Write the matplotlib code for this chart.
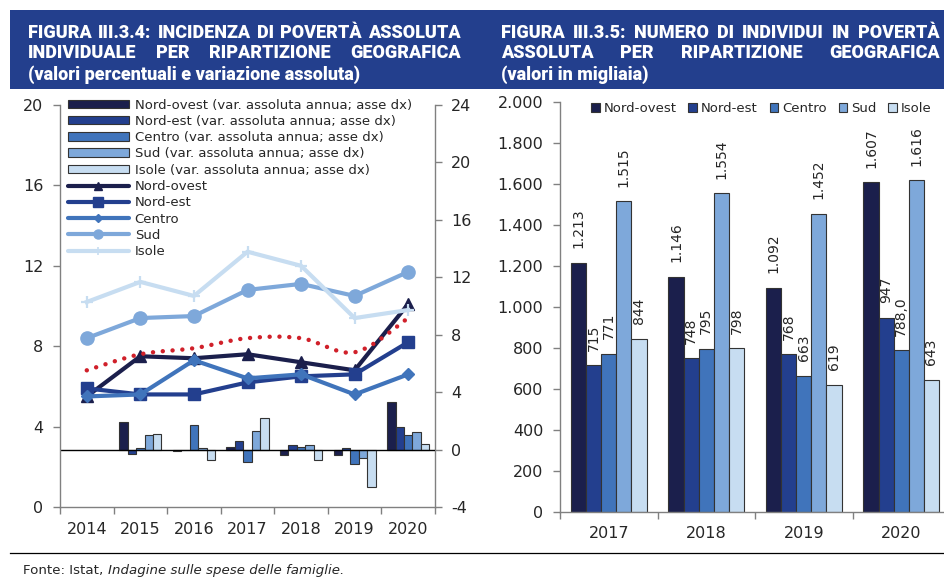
import numpy as np
import matplotlib
matplotlib.use('Agg')
import matplotlib.pyplot as plt
from matplotlib import font_manager
from matplotlib.patches import Rectangle, Patch, PathPatch
from matplotlib.lines import Line2D
from matplotlib.path import Path
from matplotlib.ticker import FuncFormatter, FixedLocator

# ---------------- data: left chart (incidenza, %) ----------------
years_left = ['2014', '2015', '2016', '2017', '2018', '2019', '2020']
inc_nord_ovest = [5.5, 7.5, 7.4, 7.6, 7.2, 6.8, 10.1]
inc_nord_est = [5.9, 5.6, 5.6, 6.2, 6.5, 6.6, 8.2]
inc_centro = [5.5, 5.6, 7.3, 6.4, 6.6, 5.6, 6.6]
inc_sud = [8.4, 9.4, 9.5, 10.8, 11.1, 10.5, 11.7]
inc_isole = [10.2, 11.2, 10.5, 12.7, 12.0, 9.4, 9.8]
inc_italia = [6.8, 7.6, 7.9, 8.4, 8.4, 7.7, 9.4]

# variazione assoluta annua (asse dx)
var_nord_ovest = [np.nan, 1.9, -0.1, 0.2, -0.4, -0.4, 3.3]
var_nord_est = [np.nan, -0.3, 0.0, 0.6, 0.3, 0.1, 1.6]
var_centro = [np.nan, 0.1, 1.7, -0.9, 0.2, -1.0, 1.0]
var_sud = [np.nan, 1.0, 0.1, 1.3, 0.3, -0.6, 1.2]
var_isole = [np.nan, 1.1, -0.7, 2.2, -0.7, -2.6, 0.4]

# ---------------- data: right chart (migliaia) ----------------
years_right = ['2017', '2018', '2019', '2020']
ind_nord_ovest = [1213, 1146, 1092, 1607]
ind_nord_est = [715, 748, 768, 947]
ind_centro = [771, 795, 663, 788.0]
ind_sud = [1515, 1554, 1452, 1616]
ind_isole = [844, 798, 619, 643]
ind_centro_decimals = [0, 0, 0, 1]

regions = ['Nord-ovest', 'Nord-est', 'Centro', 'Sud', 'Isole']

# ---------------- style ----------------
c_no = '#1b1f4c'
c_ne = '#233f8e'
c_ce = '#4074bb'
c_su = '#7ea8da'
c_is = '#c7ddf1'
colors = [c_no, c_ne, c_ce, c_su, c_is]
c_red = '#d0202a'
c_box = '#233f8d'
c_spine = '#808080'
c_text = '#262626'

W, H = 944, 579
plt.rcParams['font.family'] = ['DejaVu Sans']
plt.rcParams['axes.unicode_minus'] = False
fig = plt.figure(figsize=(W / 100, H / 100), dpi=100)

avail = {f.name for f in font_manager.fontManager.ttflist}


def pick(cands):
    for c in cands:
        if c in avail:
            return c
    return 'DejaVu Sans'


title_family = pick(['Roboto', 'Liberation Sans', 'DejaVu Sans'])


def fx(px):
    return px / W


def fy(py):
    return 1 - py / H


# title box
fig.add_artist(Rectangle((fx(10), fy(89)), fx(944) - fx(10), fy(10) - fy(89),
                         transform=fig.transFigure, facecolor=c_box,
                         edgecolor='none', zorder=0))

# ================= LEFT CHART =================
ax = fig.add_axes([fx(60), fy(507), fx(435) - fx(60), fy(105) - fy(507)])
axb = ax.twinx()
ax.set_zorder(axb.get_zorder() + 1)
ax.patch.set_visible(False)

x = np.arange(len(years_left))
bw = 0.157
var_series = [var_nord_ovest, var_nord_est, var_centro, var_sud, var_isole]
for i, (vals, col) in enumerate(zip(var_series, colors)):
    axb.bar(x + (i - 2) * bw, vals, bw, color=col, edgecolor='#333333',
            linewidth=0.8, zorder=2)
axb.axhline(0, color='black', lw=1.0, zorder=3)

inc_series = [inc_nord_ovest, inc_nord_est, inc_centro, inc_sud, inc_isole]
markers = [('^', 8, 1), ('s', 9, 1), ('D', 6.5, 1), ('o', 9.5, 1), ('+', 9, 1.6)]
for vals, col, (m, ms, mew) in zip(inc_series, colors, markers):
    ax.plot(x, vals, color=col, lw=3, marker=m, ms=ms, mew=mew,
            markeredgecolor=col, solid_joinstyle='miter', zorder=3)

# smoothed dotted Italy line (Catmull-Rom -> cubic Bezier)
P = np.column_stack([x, inc_italia]).astype(float)
verts = [tuple(P[0])]
codes = [Path.MOVETO]
n = len(P)
for i in range(n - 1):
    p0 = P[i - 1] if i > 0 else P[i]
    p1 = P[i]
    p2 = P[i + 1]
    p3 = P[i + 2] if i + 2 < n else P[i + 1]
    c1 = p1 + (p2 - p0) / 6.0
    c2 = p2 - (p3 - p1) / 6.0
    verts += [tuple(c1), tuple(c2), tuple(p2)]
    codes += [Path.CURVE4] * 3
pp = PathPatch(Path(verts, codes), fill=False, edgecolor=c_red, lw=3.2,
               linestyle=(0, (0.01, 2.2)), capstyle='round', zorder=5)
ax.add_patch(pp)

ax.set_xlim(-0.5, len(x) - 0.5)
ax.set_ylim(0, 20)
axb.set_ylim(-4, 24)
ax.set_yticks(np.arange(0, 21, 4))
axb.set_yticks(np.arange(-4, 25, 4))
ax.set_xticks(x)
ax.set_xticklabels(years_left)
ax.xaxis.set_minor_locator(FixedLocator(np.arange(-0.5, len(x), 1)))
ax.tick_params(axis='x', which='major', length=0, pad=10.5, labelsize=11.5,
               labelcolor=c_text)
ax.tick_params(axis='x', which='minor', length=5, width=1, color=c_spine,
               direction='out')
ax.tick_params(axis='y', length=5, width=1, color=c_spine, pad=7,
               labelsize=11.5, labelcolor=c_text)
axb.tick_params(axis='y', length=5, width=1, color=c_spine, pad=6.5,
                labelsize=11.5, labelcolor=c_text)
for a in (ax, axb):
    a.spines['top'].set_visible(False)
    for s in a.spines.values():
        s.set_color(c_spine)
        s.set_linewidth(1)
ax.spines['right'].set_visible(False)
axb.spines['left'].set_visible(False)
axb.spines['bottom'].set_visible(False)

handles = []
labels = []
for reg, col in zip(regions, colors):
    handles.append(Patch(facecolor=col, edgecolor='#333333', linewidth=0.8))
    labels.append(f'{reg} (var. assoluta annua; asse dx)')
leg_markers = [('^', 5.5, 1), ('s', 6.5, 1), ('D', 4.5, 1), ('o', 6.5, 1), ('+', 6, 1.2)]
for reg, col, (m, ms, mew) in zip(regions, colors, leg_markers):
    handles.append(Line2D([], [], color=col, lw=3, marker=m, ms=ms, mew=mew,
                          markeredgecolor=col, solid_capstyle='round'))
    labels.append(reg)
leg = ax.legend(handles, labels, loc='upper left',
                bbox_to_anchor=((68 - 60) / 375, (507 - 98.5) / 402),
                frameon=False, fontsize=9.5, borderpad=0, borderaxespad=0,
                labelspacing=0.25, handlelength=4.6, handleheight=0.62,
                handletextpad=0.45)
for t in leg.get_texts():
    t.set_color(c_text)

# ================= RIGHT CHART =================
axr = fig.add_axes([fx(560), fy(511.7), fx(950) - fx(560), fy(101.7) - fy(511.7)])
xr = np.arange(len(years_right))
bwr = 0.155
ind_series = [ind_nord_ovest, ind_nord_est, ind_centro, ind_sud, ind_isole]


def it_fmt(v, dec=0):
    s = f'{v:,.{dec}f}'
    return s.replace(',', 'X').replace('.', ',').replace('X', '.')


for i, (vals, col) in enumerate(zip(ind_series, colors)):
    xs = xr + (i - 2) * bwr
    axr.bar(xs, vals, bwr, color=col, edgecolor='#333333', linewidth=0.8,
            zorder=2)
    for j, (xx, v) in enumerate(zip(xs, vals)):
        dec = ind_centro_decimals[j] if i == 2 else 0
        axr.annotate(it_fmt(v, dec), (xx, v), xytext=(0, 10.5),
                     textcoords='offset points', rotation=90, ha='center',
                     va='bottom', fontsize=10, color=c_text)

axr.set_xlim(-0.5, len(xr) - 0.5)
axr.set_ylim(0, 2000)
axr.set_yticks(np.arange(0, 2001, 200))
axr.yaxis.set_major_formatter(FuncFormatter(lambda v, p: it_fmt(v)))
axr.set_xticks(xr)
axr.set_xticklabels(years_right)
axr.xaxis.set_minor_locator(FixedLocator(np.arange(-0.5, len(xr), 1)))
axr.tick_params(axis='x', which='major', length=0, pad=10, labelsize=11.5,
                labelcolor=c_text)
axr.tick_params(axis='x', which='minor', length=5, width=1, color=c_spine,
                direction='out')
axr.tick_params(axis='y', length=5, width=1, color=c_spine, pad=7,
                labelsize=11.5, labelcolor=c_text)
for k in ('top', 'right'):
    axr.spines[k].set_visible(False)
for k in ('left', 'bottom'):
    axr.spines[k].set_color(c_spine)
    axr.spines[k].set_linewidth(1)

rh = [Patch(facecolor=c, edgecolor='#333333', linewidth=0.8) for c in colors]
legr = axr.legend(rh, regions, loc='upper left', ncol=5,
                  bbox_to_anchor=((591 - 560) / 390, (511.7 - 102) / 410),
                  frameon=False, fontsize=9.5, borderpad=0, borderaxespad=0,
                  handlelength=0.65, handleheight=0.65, handletextpad=0.3,
                  columnspacing=0.9)
for t in legr.get_texts():
    t.set_color(c_text)

# ================= TITLES =================
fig.canvas.draw()
r = fig.canvas.get_renderer()
tprops = dict(family=title_family, weight='black', color='white')


def width_px(t):
    return t.get_window_extent(renderer=r).width


title_left = ['FIGURA III.3.4: INCIDENZA DI POVERTÀ ASSOLUTA',
              'INDIVIDUALE PER RIPARTIZIONE GEOGRAFICA',
              '(valori percentuali e variazione assoluta)']
title_right = ['FIGURA III.3.5: NUMERO DI INDIVIDUI IN POVERTÀ',
               'ASSOLUTA PER RIPARTIZIONE GEOGRAFICA',
               '(valori in migliaia)']
boxes = [(28, 461, title_left), (501, 940, title_right)]

size = 13.0
for x0, x1, lines in boxes:
    t = fig.text(0, 0, lines[0], fontsize=12, **tprops)
    w = width_px(t)
    t.remove()
    size = min(size, 12 * (x1 - x0) / w * 0.99)

baselines = [37.5, 58.5, 79.5]


def justified(words, x0, x1, yb):
    ts = [fig.text(0, fy(yb), wd, fontsize=size, va='baseline', ha='left',
                   **tprops) for wd in words]
    ws = [width_px(t) for t in ts]
    gap = (x1 - x0 - sum(ws)) / (len(words) - 1)
    xx = x0
    for t, wv in zip(ts, ws):
        t.set_x(fx(xx))
        xx += wv + gap


for x0, x1, lines in boxes:
    justified(lines[0].split(' '), x0, x1, baselines[0])
    justified(lines[1].split(' '), x0, x1, baselines[1])
    fig.text(fx(x0), fy(baselines[2]), lines[2], fontsize=size, va='baseline',
             ha='left', **tprops)

# ================= FOOTER =================
fig.add_artist(Line2D([fx(10), 1.0], [fy(553), fy(553)], transform=fig.transFigure,
                      color='black', lw=0.9))
t1 = fig.text(fx(23), fy(574), 'Fonte: Istat, ', fontsize=9.6, va='baseline',
              ha='left', color=c_text)
w1 = width_px(t1)
fig.text(fx(23 + w1), fy(574), 'Indagine sulle spese delle famiglie.',
         fontsize=9.6, va='baseline', ha='left', color=c_text, style='italic')

fig.savefig('out.png', dpi=100)
